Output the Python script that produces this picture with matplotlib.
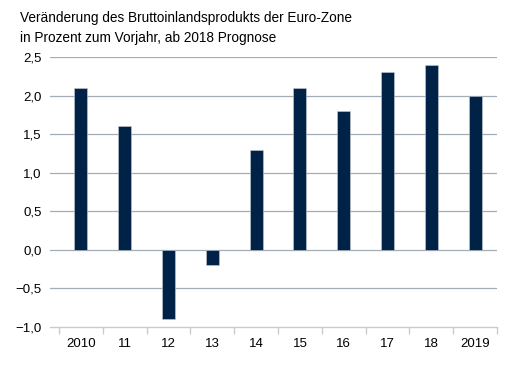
import matplotlib
matplotlib.use("Agg")
import matplotlib.pyplot as plt
import numpy as np

categories = ["2010", "11", "12", "13", "14", "15", "16", "17", "18", "2019"]
values = [2.1, 1.6, -0.9, -0.2, 1.3, 2.1, 1.8, 2.3, 2.4, 2.0]
yticks = [-1.0, -0.5, 0.0, 0.5, 1.0, 1.5, 2.0, 2.5]
title_lines = ["Veränderung des Bruttoinlandsprodukts der Euro-Zone",
               "in Prozent zum Vorjahr, ab 2018 Prognose"]

plt.rcParams['font.family'] = ['Liberation Sans', 'DejaVu Sans']
W, H = 518, 385
fig = plt.figure(figsize=(W/100, H/100), dpi=100)
ax = fig.add_axes([50/W, 1-327/H, (497-50)/W, (327-57)/H])

x = np.arange(len(categories))
ax.bar(x, values, width=0.3, color="#002247", edgecolor="#c8ccd4", linewidth=0.4, zorder=3)

ax.set_ylim(-1.0, 2.5)
ax.set_xlim(-0.5 - 9/43.8, 9.5)
ax.set_yticks(yticks)
ax.set_yticklabels([f"{v:.1f}".replace(".", ",").replace("-", "\u2212") for v in yticks], fontsize=9.5)
ax.tick_params(axis='y', length=0, pad=6)
for v in yticks[1:]:
    ax.axhline(v, color="#a3adb8", linewidth=0.9, zorder=1)
for s in ["top", "right", "left"]:
    ax.spines[s].set_visible(False)
ax.spines["bottom"].set_color("#c8ccd2")
ax.spines["bottom"].set_linewidth(1.0)

ax.set_xticks(np.arange(len(categories) + 1) - 0.5)
ax.set_xticklabels([])
ax.tick_params(axis='x', length=5, color="#c8ccd2", width=1.0)
ax.set_xticks(x, minor=True)
ax.set_xticklabels(categories, minor=True, fontsize=9.5)
ax.tick_params(axis='x', which='minor', length=0, pad=8)

fig.text(20/W, 1-22/H, title_lines[0], fontsize=9.8, va='baseline', ha='left')
fig.text(20/W, 1-42/H, title_lines[1], fontsize=9.8, va='baseline', ha='left')

fig.savefig("out.png", dpi=100)
